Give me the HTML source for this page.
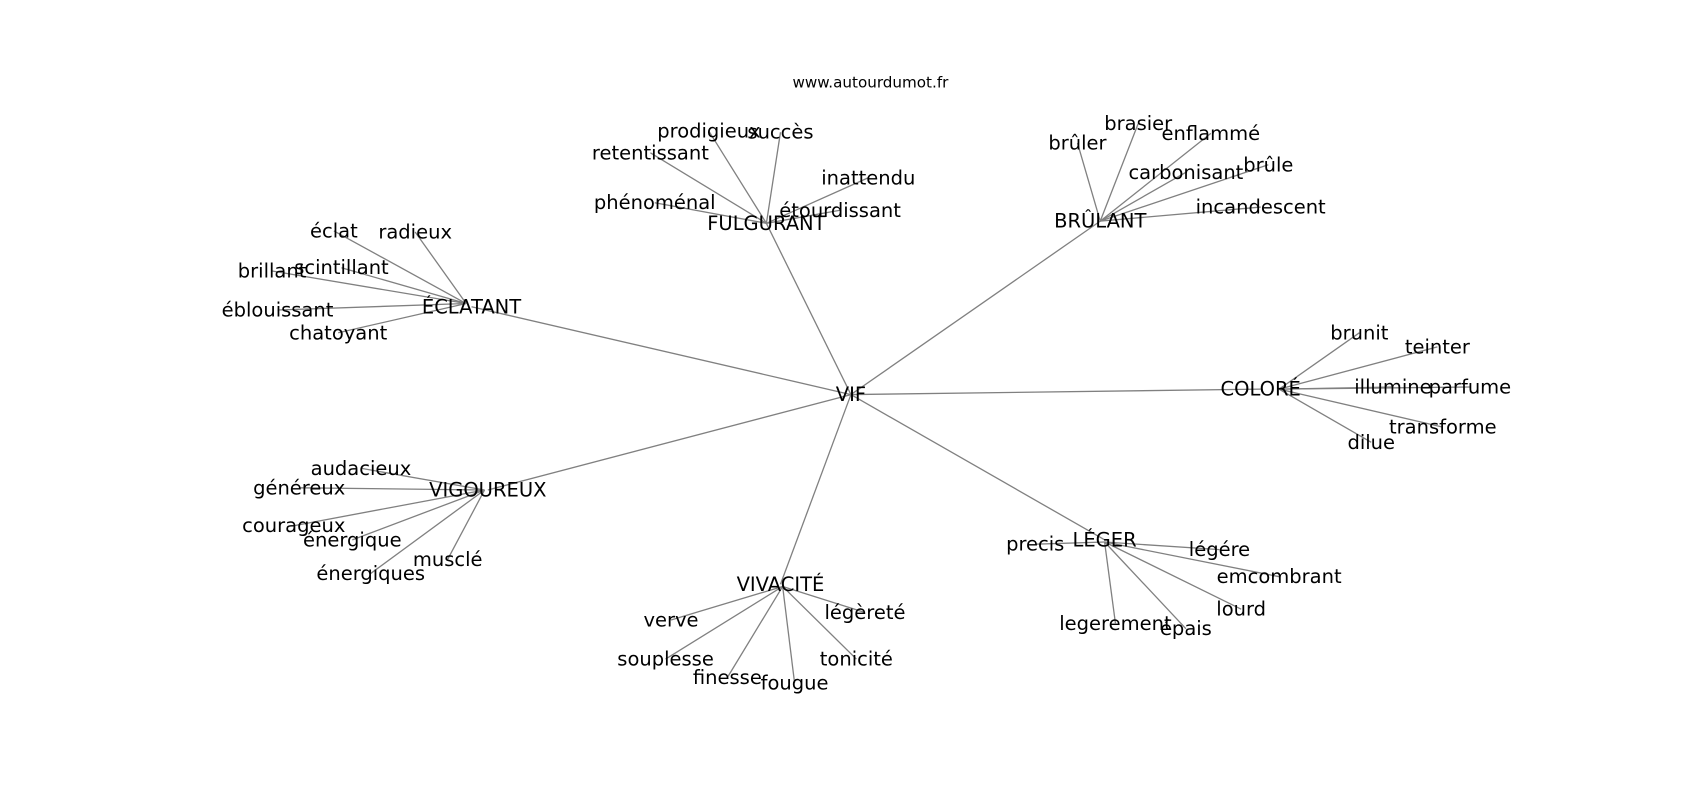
<!DOCTYPE html>
<html><head><meta charset="utf-8"><style>
html,body{margin:0;padding:0;background:#fff;width:1700px;height:800px;overflow:hidden}
text{font-family:"DejaVu Sans","Liberation Sans",sans-serif;font-size:18px;fill:#000;text-anchor:middle;dominant-baseline:central}
line{stroke:#808080;stroke-width:1.2}
</style></head><body>
<svg width="1700" height="800" xmlns="http://www.w3.org/2000/svg">
<g transform="scale(1.084)">
<g id="edges">
<line x1="785" y1="364" x2="435" y2="283"/>
<line x1="785" y1="364" x2="707" y2="206"/>
<line x1="785" y1="364" x2="1015" y2="204"/>
<line x1="785" y1="364" x2="1163" y2="359"/>
<line x1="785" y1="364" x2="1019" y2="498"/>
<line x1="785" y1="364" x2="720" y2="539"/>
<line x1="785" y1="364" x2="450" y2="452"/>

<line x1="430" y1="280" x2="308" y2="213"/>
<line x1="430" y1="280" x2="383" y2="214"/>
<line x1="430" y1="280" x2="251" y2="250"/>
<line x1="430" y1="280" x2="315" y2="247"/>
<line x1="430" y1="280" x2="256" y2="286"/>
<line x1="430" y1="280" x2="312" y2="307"/>

<line x1="707" y1="206" x2="654" y2="121"/>
<line x1="707" y1="206" x2="720" y2="122"/>
<line x1="707" y1="206" x2="600" y2="141"/>
<line x1="707" y1="206" x2="801" y2="164"/>
<line x1="707" y1="206" x2="604" y2="187"/>
<line x1="707" y1="206" x2="775" y2="194"/>

<line x1="1015" y1="204" x2="994" y2="132"/>
<line x1="1015" y1="204" x2="1050" y2="114"/>
<line x1="1015" y1="204" x2="1117" y2="123"/>
<line x1="1015" y1="204" x2="1094" y2="159"/>
<line x1="1015" y1="204" x2="1170" y2="152"/>
<line x1="1015" y1="204" x2="1163" y2="191"/>

<line x1="1180" y1="359" x2="1254" y2="307"/>
<line x1="1180" y1="359" x2="1326" y2="320"/>
<line x1="1180" y1="359" x2="1285" y2="357"/>
<line x1="1180" y1="359" x2="1356" y2="357"/>
<line x1="1180" y1="359" x2="1331" y2="394"/>
<line x1="1180" y1="359" x2="1265" y2="408"/>

<line x1="1019" y1="500" x2="955" y2="502"/>
<line x1="1019" y1="500" x2="1125" y2="507"/>
<line x1="1019" y1="500" x2="1180" y2="532"/>
<line x1="1019" y1="500" x2="1145" y2="562"/>
<line x1="1019" y1="500" x2="1029" y2="575"/>
<line x1="1019" y1="500" x2="1094" y2="580"/>

<line x1="722" y1="541" x2="619" y2="572"/>
<line x1="722" y1="541" x2="798" y2="565"/>
<line x1="722" y1="541" x2="614" y2="608"/>
<line x1="722" y1="541" x2="790" y2="608"/>
<line x1="722" y1="541" x2="671" y2="625"/>
<line x1="722" y1="541" x2="733" y2="630"/>

<line x1="447" y1="452" x2="333" y2="432"/>
<line x1="447" y1="452" x2="276" y2="450"/>
<line x1="447" y1="452" x2="271" y2="485"/>
<line x1="447" y1="452" x2="325" y2="498"/>
<line x1="447" y1="452" x2="413" y2="516"/>
<line x1="447" y1="452" x2="342" y2="529"/>
</g>
<text x="803" y="76" style="font-size:14px">www.autourdumot.fr</text>
<text x="785" y="364">VIF</text>
<text x="435" y="283">ÉCLATANT</text>
<text x="707" y="206">FULGURANT</text>
<text x="1015" y="204">BRÛLANT</text>
<text x="1163" y="359">COLORÉ</text>
<text x="1019" y="498">LÉGER</text>
<text x="720" y="539">VIVACITÉ</text>
<text x="450" y="452">VIGOUREUX</text>

<text x="308" y="213">éclat</text>
<text x="383" y="214">radieux</text>
<text x="251" y="250">brillant</text>
<text x="315" y="247">scintillant</text>
<text x="256" y="286">éblouissant</text>
<text x="312" y="307">chatoyant</text>

<text x="654" y="121">prodigieux</text>
<text x="720" y="122">succès</text>
<text x="600" y="141">retentissant</text>
<text x="801" y="164">inattendu</text>
<text x="604" y="187">phénoménal</text>
<text x="775" y="194">étourdissant</text>

<text x="994" y="132">brûler</text>
<text x="1050" y="114">brasier</text>
<text x="1117" y="123">enflammé</text>
<text x="1094" y="159">carbonisant</text>
<text x="1170" y="152">brûle</text>
<text x="1163" y="191">incandescent</text>

<text x="1254" y="307">brunit</text>
<text x="1326" y="320">teinter</text>
<text x="1285" y="357">illumine</text>
<text x="1356" y="357">parfume</text>
<text x="1331" y="394">transforme</text>
<text x="1265" y="408">dilue</text>

<text x="955" y="502">precis</text>
<text x="1125" y="507">légére</text>
<text x="1180" y="532">emcombrant</text>
<text x="1145" y="562">lourd</text>
<text x="1029" y="575">legerement</text>
<text x="1094" y="580">épais</text>

<text x="619" y="572">verve</text>
<text x="798" y="565">légèreté</text>
<text x="614" y="608">souplesse</text>
<text x="790" y="608">tonicité</text>
<text x="671" y="625">finesse</text>
<text x="733" y="630">fougue</text>

<text x="333" y="432">audacieux</text>
<text x="276" y="450">généreux</text>
<text x="271" y="485">courageux</text>
<text x="325" y="498">énergique</text>
<text x="413" y="516">musclé</text>
<text x="342" y="529">énergiques</text>
</g>
</svg>
</body></html>
